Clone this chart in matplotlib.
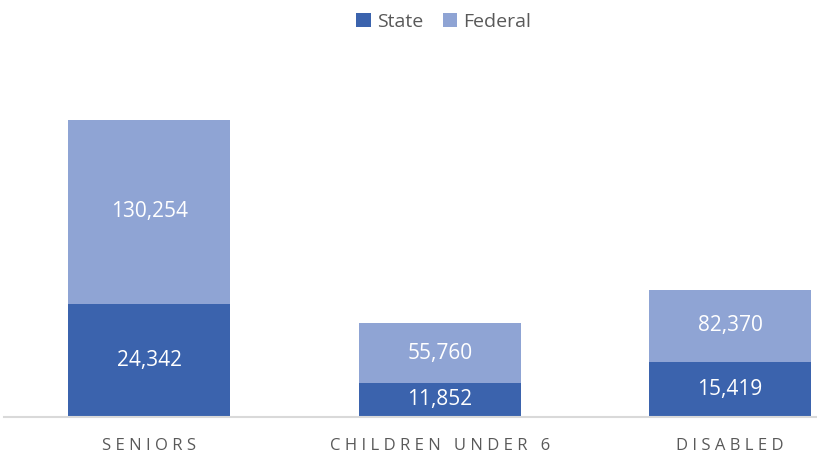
import matplotlib.pyplot as plt
import numpy as np

# =====================================================
# DATA
# =====================================================

categories = ["SENIORS", "CHILDREN UNDER 6", "DISABLED"]
series = ["State", "Federal"]

# bar heights as drawn (relative units)
state_height = [113, 34, 55]
federal_height = [184, 60, 72]

# printed data labels
state_labels = ["24,342", "11,852", "15,419"]
federal_labels = ["130,254", "55,760", "82,370"]

state_color = "#3B63AD"
federal_color = "#8FA4D4"
text_gray = "#595959"

plt.rcParams['font.family'] = ['Open Sans', 'DejaVu Sans']

# =====================================================
# FIGURE
# =====================================================

fig = plt.figure(figsize=(8.17, 4.53), dpi=100)
ax = fig.add_axes([4 / 817, 36 / 453, 813 / 817, 357 / 453])

x = np.arange(len(categories))
width = 0.558

b1 = ax.bar(x, state_height, width, color=state_color, label=series[0])
b2 = ax.bar(x, federal_height, width, bottom=state_height,
            color=federal_color, label=series[1])

ax.bar_label(b1, labels=state_labels, label_type="center",
             color="white", fontsize=15)
ax.bar_label(b2, labels=federal_labels, label_type="center",
             color="white", fontsize=15)

ax.set_xlim(-0.5, 2.299)
ax.set_ylim(0, 357)

# spaced-out category labels
spaced = ["   ".join(" ".join(w) for w in c.split(" ")) for c in categories]
ax.set_xticks(x)
ax.set_xticklabels(spaced, color=text_gray, fontsize=12)
ax.tick_params(axis="x", length=0, pad=15)
ax.set_yticks([])

for s in ["top", "right", "left"]:
    ax.spines[s].set_visible(False)
ax.spines["bottom"].set_color("#D9D9D9")
ax.spines["bottom"].set_linewidth(1.5)

fig.legend(handles=[b1, b2], labels=series, loc="upper center",
           bbox_to_anchor=(0.543, 1.01), ncol=2, frameon=False,
           fontsize=14, handlelength=0.75, handleheight=0.75,
           handletextpad=0.3, columnspacing=1.0, labelcolor=text_gray)

plt.savefig("out.png", dpi=100)
plt.close()
